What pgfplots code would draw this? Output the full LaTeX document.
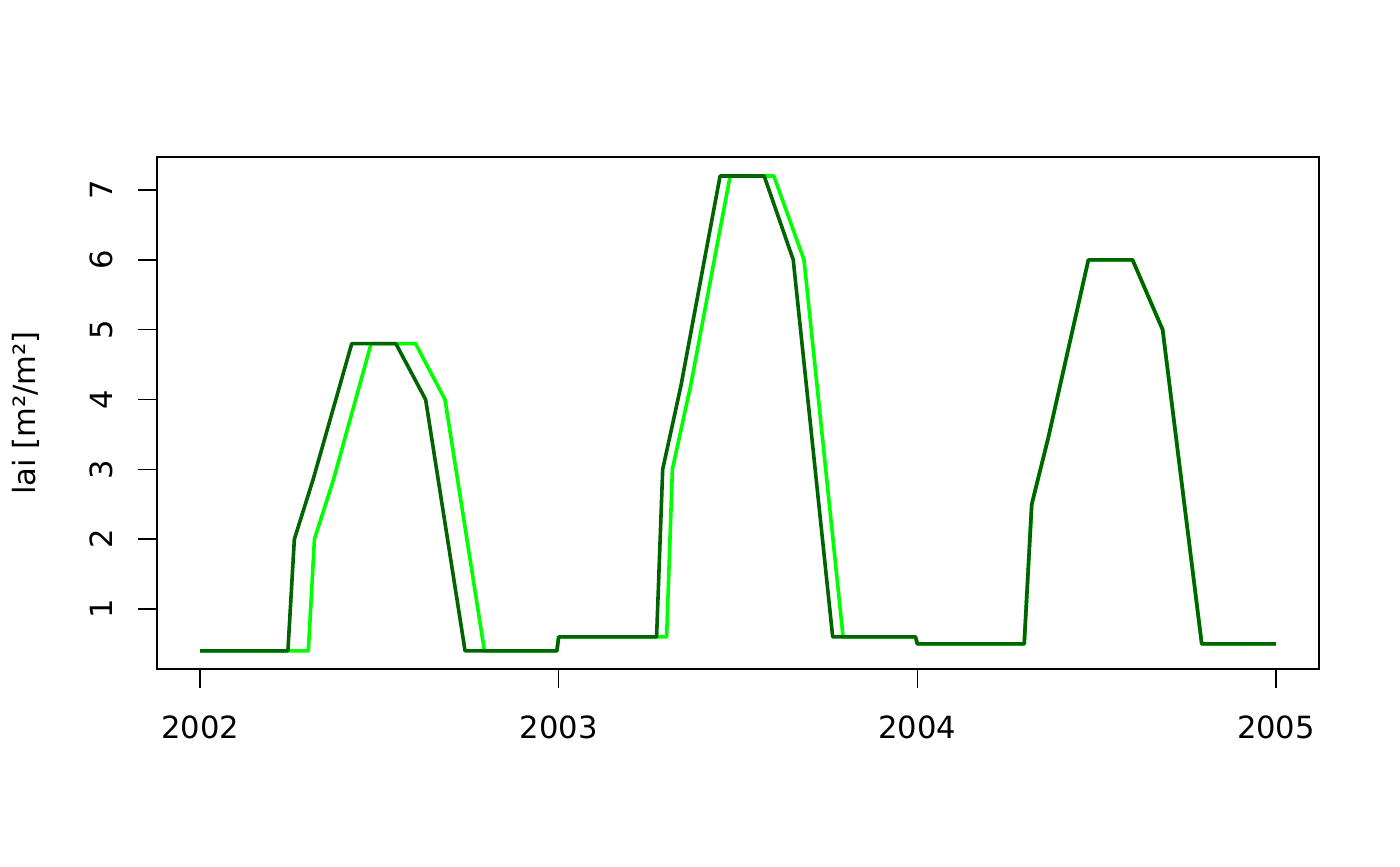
\documentclass[border=0pt]{standalone}
\usepackage{fontspec}
\setmainfont{DejaVu Sans}
\usepackage{pgfplots}
\pgfplotsset{compat=1.18}
\definecolor{rdark}{HTML}{006400}
\definecolor{rgreen}{HTML}{00FF00}
\begin{document}
\fontsize{15pt}{18pt}\selectfont
\begin{tikzpicture}
\path[use as bounding box] (0,0) rectangle (700pt,433pt);
\begin{axis}[
  at={(78.5pt,98.5pt)}, anchor=south west,
  scale only axis, width=581pt, height=256pt,
  xmin=2001.880, xmax=2005.120, ymin=0.1408, ymax=7.4726,
  axis line style={line width=0.75pt},
  tick style={line width=0.75pt, black},
  tick align=outside, major tick length=9.5pt,
  xtick={2002,2003,2004,2005}, xticklabels={2002,2003,2004,2005},
  ytick={1,2,3,4,5,6,7},
  xtick pos=bottom, ytick pos=left,
  /pgf/number format/assume math mode=true,
  tick label style={font=\fontsize{15.3pt}{18pt}\selectfont},
  xticklabel style={anchor=base}, xticklabel shift=25pt,
  yticklabel style={rotate=90, anchor=base}, yticklabel shift=13pt,
  ylabel={lai [m²/m²]},
  every axis y label/.style={at={(axis description cs:-0.113,0.5)}, rotate=90, anchor=center, font=\fontsize{15.3pt}{18pt}\selectfont},
]
\addplot[rgreen, line width=1.8pt, line join=round] coordinates {
(2002.000,0.4) (2002.302,0.4) (2002.319,2.0) (2002.372,2.85) (2002.477,4.8)
(2002.601,4.8) (2002.683,4.0) (2002.793,0.4) (2002.995,0.4) (2003.000,0.6)
(2003.301,0.6) (2003.317,3.0) (2003.368,4.2) (2003.478,7.2) (2003.600,7.2)
(2003.684,6.0) (2003.793,0.6) (2003.995,0.6) (2004.000,0.5) (2004.298,0.5)
(2004.319,2.5) (2004.365,3.45) (2004.477,6.0) (2004.600,6.0) (2004.684,5.0)
(2004.793,0.5) (2005.000,0.5)
};
\addplot[rdark, line width=1.8pt, line join=round] coordinates {
(2002.000,0.4) (2002.245,0.4) (2002.263,2.0) (2002.315,2.85) (2002.423,4.8)
(2002.546,4.8) (2002.629,4.0) (2002.739,0.4) (2002.995,0.4) (2003.000,0.6)
(2003.273,0.6) (2003.290,3.0) (2003.341,4.2) (2003.450,7.2) (2003.573,7.2)
(2003.654,6.0) (2003.764,0.6) (2003.995,0.6) (2004.000,0.5) (2004.298,0.5)
(2004.319,2.5) (2004.365,3.45) (2004.477,6.0) (2004.600,6.0) (2004.684,5.0)
(2004.793,0.5) (2005.000,0.5)
};
\end{axis}
\end{tikzpicture}
\end{document}
